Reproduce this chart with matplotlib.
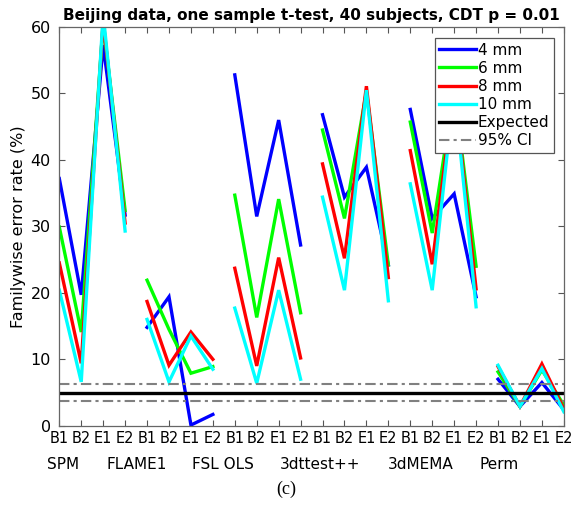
import matplotlib

matplotlib.use("Agg")
import matplotlib.pyplot as plt  # noqa: E402
import numpy as np  # noqa: E402

# x positions: 6 software packages x 4 designs
designs = ["B1", "B2", "E1", "E2"]
packages = ["SPM", "FLAME1", "FSL OLS", "3dttest++", "3dMEMA", "Perm"]
# label anchor (data x) for the package names, as placed in the original
package_label_x = [1.17, 4.54, 8.46, 12.88, 17.48, 21.04]

# familywise error rate (%) per smoothing level, 24 values each
fwe_4mm = [37.2, 19.7, 57.3, 31.7,
           14.8, 19.4, 0.1, 1.7,
           52.8, 31.5, 46.0, 27.2,
           46.8, 34.4, 38.9, 24.2,
           47.6, 31.2, 34.9, 19.4,
           7.0, 2.9, 6.5, 2.4]
fwe_6mm = [29.9, 14.1, 60.5, 32.4,
           21.9, 14.5, 7.9, 8.9,
           34.7, 16.3, 34.1, 17.0,
           44.5, 31.2, 50.3, 24.2,
           45.7, 29.0, 50.5, 24.0,
           8.1, 2.9, 8.4, 3.1]
fwe_8mm = [24.5, 9.4, 61.0, 30.5,
           18.7, 9.1, 14.1, 10.0,
           23.7, 9.0, 25.3, 10.2,
           39.4, 25.2, 51.1, 22.3,
           41.4, 24.3, 50.8, 20.6,
           8.9, 2.9, 9.3, 2.5]
fwe_10mm = [20.4, 6.6, 62.0, 29.3,
            16.0, 6.6, 13.5, 8.5,
            17.7, 6.4, 20.4, 7.0,
            34.4, 20.4, 50.5, 18.8,
            36.4, 20.4, 50.5, 17.9,
            9.1, 2.9, 8.6, 2.1]

series = [("4 mm", fwe_4mm, "#0000ff"),
          ("6 mm", fwe_6mm, "#00ff00"),
          ("8 mm", fwe_8mm, "#ff0000"),
          ("10 mm", fwe_10mm, "#00ffff")]

expected = 5.0
ci_low, ci_high = 3.65, 6.35

plt.rcParams["font.family"] = ["DejaVu Sans"]

fig = plt.figure(figsize=(5.73, 5.20), dpi=100)
ax = fig.add_axes([0.1035, 0.1813, 0.8805, 0.7667])

x = np.arange(1, 25)
for label, vals, color in series:
    vals = np.asarray(vals, float)
    for g in range(len(packages)):
        sl = slice(4 * g, 4 * g + 4)
        ax.plot(x[sl], vals[sl], color=color, lw=2.4,
                label=label if g == 0 else None, solid_joinstyle="miter")

ax.axhline(expected, color="black", lw=2.4, label="Expected")
ax.axhline(ci_high, color="#808080", lw=1.5, ls=(0, (5, 2, 1.5, 2)), label="95% CI")
ax.axhline(ci_low, color="#808080", lw=1.5, ls=(0, (5, 2, 1.5, 2)))

ax.set_xlim(1, 24)
ax.set_ylim(0, 60)
ax.set_yticks(np.arange(0, 61, 10))
ax.set_xticks(x)
ax.set_xticklabels(designs * len(packages))
ax.tick_params(axis="both", direction="in", length=4, top=True, right=True,
               color="#555555", labelsize=11.5)
ax.tick_params(axis="y", pad=6)
ax.tick_params(axis="x", pad=4, labelsize=10.5)
for sp in ax.spines.values():
    sp.set_color("#666666")
    sp.set_linewidth(0.9)

for name, px in zip(packages, package_label_x):
    ax.text(px, -0.097, name, transform=ax.get_xaxis_transform(),
            ha="center", va="center", fontsize=11)

ax.set_ylabel("Familywise error rate (%)", fontsize=11.5, labelpad=3)
ax.set_title("Beijing data, one sample t-test, 40 subjects, CDT p = 0.01",
             fontsize=11, fontweight="bold", pad=5)

leg = ax.legend(loc="upper right", fontsize=11, handlelength=2.4,
                handletextpad=0.1, borderpad=0.3, labelspacing=0.2,
                fancybox=False, framealpha=1, edgecolor="#555555",
                bbox_to_anchor=(0.980, 0.972), borderaxespad=0.0)
leg.get_frame().set_linewidth(0.9)

fig.text(0.5, 0.058, "(c)", ha="center", va="center", fontsize=13,
         family=["Liberation Serif", "DejaVu Serif"])

fig.savefig("out.png", dpi=100)
